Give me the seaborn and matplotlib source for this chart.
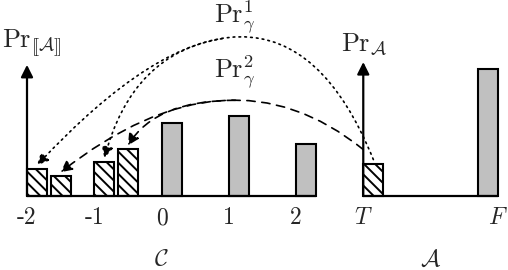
import numpy as np
import seaborn as sns
import matplotlib.pyplot as plt
from matplotlib.path import Path
from matplotlib.patches import FancyArrowPatch

# distribution over C (gray bars)
conc_x = [0, 1, 2]
conc_p = [0.52, 0.57, 0.37]
# distribution over A: T hatched, F gray
abs_x = [3, 5]
abs_p = [0.23, 0.90]
# images of T under gamma (hatched bars over C)
gam_x = [-2, -1.65, -1, -0.65]
gam_p = [0.19, 0.14, 0.24, 0.33]
pr1_targets = [0, 2]
pr2_targets = [1, 3]

tick_x = [-2, -1, 0, 1, 2, 3, 5]
tick_labels = ['-2', '-1', '0', '1', '2', '$T$', '$F$']

sns.set_theme(style='white')
plt.rcParams['mathtext.fontset'] = 'cm'
plt.rcParams['font.family'] = ['cmr10', 'DejaVu Serif']
plt.rcParams['axes.formatter.use_mathtext'] = True
plt.rcParams['hatch.linewidth'] = 1.4
plt.rcParams['hatch.color'] = 'black'

W = 0.3
GRAY = '#c0c0c0'
FS = 17
FS_PR = 19

fig = plt.figure(figsize=(5.08, 2.70), dpi=100)
ax = fig.add_axes([0, 0, 1, 1])
ax.set_xlim(-2.4015, 5.152)
ax.set_ylim(-0.525, 1.39)
ax.axis('off')

# bars
ax.bar(conc_x, conc_p, width=W, align='edge', color=GRAY, edgecolor='black', linewidth=1.5, zorder=3)
ax.bar(gam_x, gam_p, width=W, align='edge', color='white', edgecolor='black', linewidth=1.5,
       hatch='\\\\\\', zorder=3)
ax.bar(abs_x[0], abs_p[0], width=W, align='edge', color='white', edgecolor='black', linewidth=1.5,
       hatch='\\\\\\', zorder=3)
ax.bar(abs_x[1], abs_p[1], width=-W, align='edge', color=GRAY, edgecolor='black', linewidth=1.5, zorder=3)

# axes drawn as arrows
ax.plot([gam_x[0], conc_x[-1] + W], [0, 0], color='black', lw=1.6, zorder=4, solid_capstyle='butt')
ax.plot([abs_x[0], abs_x[1]], [0, 0], color='black', lw=1.6, zorder=4, solid_capstyle='butt')
for x0, top in [(gam_x[0], 0.93), (abs_x[0], 0.95)]:
    ax.annotate('', xy=(x0, top), xytext=(x0, 0),
                arrowprops=dict(arrowstyle='-|>', color='black', lw=1.6, mutation_scale=18,
                                shrinkA=0, shrinkB=0), zorder=4)

# labels
for x, lab in zip(tick_x, tick_labels):
    ax.text(x, -0.156, lab, ha='center', va='center', fontsize=FS)
ax.text(0, -0.45, r'$\mathcal{C}$', ha='center', va='center', fontsize=FS)
ax.text(4.0, -0.45, r'$\mathcal{A}$', ha='center', va='center', fontsize=FS)

ax.text(0.004, 1.085, r'$\mathrm{Pr}_{[\![\mathcal{A}]\!]}$', ha='left', va='center', fontsize=FS_PR,
        transform=ax.get_yaxis_transform())
ax.text(3.02, 1.078, r'$\mathrm{Pr}_{\mathcal{A}}$', ha='center', va='center', fontsize=FS_PR)
ax.text(1.09, 1.27, r'$\mathrm{Pr}_{\gamma}^{1}$', ha='center', va='center', fontsize=FS_PR)
ax.text(1.09, 0.88, r'$\mathrm{Pr}_{\gamma}^{2}$', ha='center', va='center', fontsize=FS_PR)


# curved arrows, built as quadratic beziers in pixel space
def to_px(x, y):
    return ax.transData.transform((x, y))


def unit(a):
    a = np.radians(a)
    return np.array([np.cos(a), np.sin(a)])


def cross(p, a, q, b):
    da, db = unit(a), unit(b)
    u, _ = np.linalg.solve(np.column_stack([da, -db]), q - p)
    return p + u * da


def draw(p0, c, p2, ls):
    verts = ax.transData.inverted().transform(np.array([p0, c, p2]))
    path = Path(verts, [Path.MOVETO, Path.CURVE3, Path.CURVE3])
    ax.add_patch(FancyArrowPatch(path=path, arrowstyle='-|>', mutation_scale=17, color='black',
                                 lw=1.2, linestyle=ls, zorder=5))


def fork(p0, c, p2, t):
    pt = (1 - t) ** 2 * p0 + 2 * t * (1 - t) * c + t ** 2 * p2
    d = 2 * (1 - t) * (c - p0) + 2 * t * (p2 - c)
    return pt, np.degrees(np.arctan2(d[1], d[0]))


def arrows(start, ends, angA, angBs, t0, ls):
    # first target: full curve; second target: branch off the first
    p2 = ends[0]
    c = cross(start, angA, p2, angBs[0])
    draw(start, c, p2, ls)
    b, angT = fork(start, c, p2, t0)
    q2 = ends[1]
    draw(b, cross(b, angT, q2, angBs[1]), q2, ls)


lift = np.array([0, 4])
t_top = to_px(abs_x[0] + W / 2, abs_p[0]) + lift
arrows(t_top, [to_px(gam_x[i] + W / 2, gam_p[i]) + lift for i in pr1_targets],
       112, [47, 75], 0.55, (0, (1, 2.5)))
t_edge = to_px(abs_x[0], abs_p[0]) + np.array([0, 14])
arrows(t_edge, [to_px(gam_x[i] + W / 2, gam_p[i]) + lift for i in pr2_targets],
       141, [38, 58], 0.45, (0, (5, 4)))

fig.savefig('out.png', dpi=100)
